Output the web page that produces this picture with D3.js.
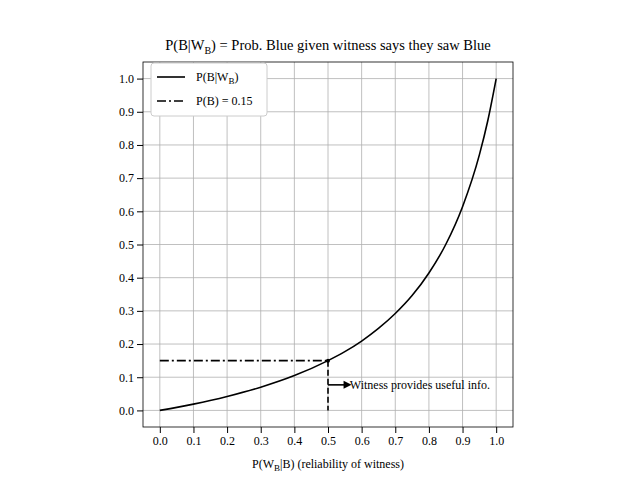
<!DOCTYPE html>
<html><head><meta charset="utf-8">
<script src="https://cdn.jsdelivr.net/npm/d3@7"></script>
<style>body{margin:0;background:#fff}text{font-family:"Liberation Serif","Times New Roman",serif}</style>
</head><body><svg id="c" width="640" height="480"></svg>
<script>
// curve points
const reliability = [0, 0.1, 0.2, 0.3, 0.4, 0.5, 0.55, 0.6, 0.65, 0.7, 0.75, 0.8, 0.85, 0.9, 0.95, 0.975, 1.0];
const posterior = [0, 0.019, 0.042, 0.070, 0.105, 0.15, 0.177, 0.209, 0.247, 0.292, 0.346, 0.414, 0.5, 0.614, 0.770, 0.873, 1.0];
const prior = 0.15;
const ticks = [0, 0.1, 0.2, 0.3, 0.4, 0.5, 0.6, 0.7, 0.8, 0.9, 1.0];

const svg = d3.select('#c');
const box = {left: 143, right: 513, top: 62, bottom: 427};
const x = d3.scaleLinear().domain([-0.05, 1.05]).range([box.left, box.right]);
const y = d3.scaleLinear().domain([-0.05, 1.05]).range([box.bottom, box.top]);

// grid
svg.append('g').selectAll('line').data(ticks).join('line')
  .attr('x1', d => x(d)).attr('x2', d => x(d)).attr('y1', box.top).attr('y2', box.bottom)
  .attr('stroke', '#b0b0b0').attr('stroke-width', 0.8);
svg.append('g').selectAll('line').data(ticks).join('line')
  .attr('y1', d => y(d)).attr('y2', d => y(d)).attr('x1', box.left).attr('x2', box.right)
  .attr('stroke', '#b0b0b0').attr('stroke-width', 0.8);

const xAxis = svg.append('g').attr('transform', `translate(0,${box.bottom})`)
  .call(d3.axisBottom(x).tickValues(ticks).tickFormat(d3.format('.1f')).tickSizeOuter(0));
const yAxis = svg.append('g').attr('transform', `translate(${box.left},0)`)
  .call(d3.axisLeft(y).tickValues(ticks).tickFormat(d3.format('.1f')).tickSizeOuter(0));
[xAxis, yAxis].forEach(g => {
  g.select('.domain').remove();
  g.selectAll('text').attr('font-size', 12).attr('font-family', 'Liberation Serif').attr('fill', '#000');
  g.selectAll('line').attr('stroke', '#000');
});
svg.append('rect').attr('x', box.left).attr('y', box.top)
  .attr('width', box.right - box.left).attr('height', box.bottom - box.top)
  .attr('fill', 'none').attr('stroke', '#000').attr('stroke-width', 0.8);

// curve
svg.append('path').datum(reliability.map((r, i) => [r, posterior[i]]))
  .attr('d', d3.line().x(d => x(d[0])).y(d => y(d[1])).curve(d3.curveMonotoneX))
  .attr('fill', 'none').attr('stroke', '#000').attr('stroke-width', 1.6);
// prior dash-dot
svg.append('line').attr('x1', x(0)).attr('x2', x(0.5)).attr('y1', y(prior)).attr('y2', y(prior))
  .attr('stroke', '#000').attr('stroke-width', 1.6).attr('stroke-dasharray', '9,3,2,3');
// dashed vertical
svg.append('line').attr('x1', x(0.5)).attr('x2', x(0.5)).attr('y1', y(prior)).attr('y2', y(0))
  .attr('stroke', '#000').attr('stroke-width', 1.6).attr('stroke-dasharray', '6,3');
svg.append('circle').attr('cx', x(0.5)).attr('cy', y(prior)).attr('r', 2).attr('fill', '#000');
// arrow
svg.append('line').attr('x1', x(0.5)).attr('x2', x(0.555)).attr('y1', y(0.077)).attr('y2', y(0.077))
  .attr('stroke', '#000').attr('stroke-width', 1.6);
const ax = x(0.57), ay = y(0.077);
svg.append('path').attr('d', `M${ax},${ay}L${ax - 8},${ay - 4}L${ax - 8},${ay + 4}Z`).attr('fill', '#000');
svg.append('text').attr('x', x(0.565)).attr('y', ay + 4).attr('font-size', 12).text('Witness provides useful info.');

// title
const t = svg.append('text').attr('x', (box.left + box.right) / 2).attr('y', 50).attr('text-anchor', 'middle').attr('font-size', 14.5);
t.append('tspan').text('P(B|W');
t.append('tspan').attr('font-size', 10).attr('dy', 4).text('B');
t.append('tspan').attr('dy', -4).text(') = Prob. Blue given witness says they saw Blue');

// x label
const xl = svg.append('text').attr('x', (box.left + box.right) / 2).attr('y', 468).attr('text-anchor', 'middle').attr('font-size', 12);
xl.append('tspan').text('P(W');
xl.append('tspan').attr('font-size', 9).attr('dy', 3).text('B');
xl.append('tspan').attr('dy', -3).text('|B) (reliability of witness)');

// legend
const lg = svg.append('g');
lg.append('rect').attr('x', 151).attr('y', 63).attr('width', 116).attr('height', 53).attr('rx', 3)
  .attr('fill', '#fff').attr('stroke', '#ccc');
lg.append('line').attr('x1', 157).attr('x2', 185).attr('y1', 77).attr('y2', 77).attr('stroke', '#000').attr('stroke-width', 1.6);
lg.append('line').attr('x1', 157).attr('x2', 185).attr('y1', 101).attr('y2', 101).attr('stroke', '#000').attr('stroke-width', 1.6).attr('stroke-dasharray', '9,3,2,3');
const l1 = lg.append('text').attr('x', 196).attr('y', 81).attr('font-size', 12);
l1.append('tspan').text('P(B|W');
l1.append('tspan').attr('font-size', 9).attr('dy', 3).text('B');
l1.append('tspan').attr('dy', -3).text(')');
lg.append('text').attr('x', 196).attr('y', 105).attr('font-size', 12).text('P(B) = 0.15');
</script></body></html>
